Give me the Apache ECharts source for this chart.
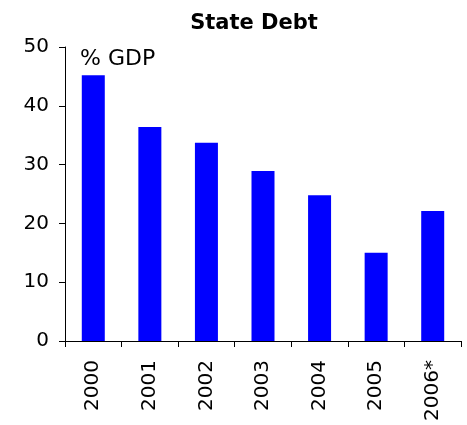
<!DOCTYPE html>
<html><head><meta charset="utf-8">
<script src="https://cdn.jsdelivr.net/npm/echarts@6/dist/echarts.min.js"></script>
<style>html,body{margin:0;padding:0;background:#fff}#c{width:467px;height:425px}</style>
</head><body><div id="c"></div>
<script>
const categories = ['2000','2001','2002','2003','2004','2005','2006*'];
const debtValues = [45.2, 36.4, 33.7, 28.9, 24.8, 15.0, 22.1];
const yTicks = [0, 10, 20, 30, 40, 50];

const chart = echarts.init(document.getElementById('c'));
chart.setOption({
  animation: false,
  backgroundColor: '#fff',
  title: { text: 'State Debt', left: 249, textAlign: 'center', top: 8,
    textStyle: { fontFamily: 'DejaVu Sans', fontSize: 21, fontWeight: 'bold', color: '#000' } },
  grid: { left: 65, right: 6, top: 47, bottom: 84 },
  xAxis: { type: 'category', data: categories,
    axisLine: { lineStyle: { color: '#000', width: 1 } },
    axisTick: { show: true, length: 6, lineStyle: { color: '#000' }, alignWithLabel: false },
    axisLabel: { rotate: 90, fontFamily: 'DejaVu Sans', fontSize: 20, color: '#000', margin: 19, interval: 0 } },
  yAxis: { type: 'value', min: yTicks[0], max: yTicks[yTicks.length-1], interval: 10,
    axisLine: { show: true, lineStyle: { color: '#000', width: 1 } },
    axisTick: { show: true, length: 6, lineStyle: { color: '#000' } },
    splitLine: { show: false },
    axisLabel: { fontFamily: 'DejaVu Sans', fontSize: 20, color: '#000', margin: 16 } },
  graphic: [{ type: 'text', left: 80, top: 48,
    style: { text: '% GDP', fontFamily: 'DejaVu Sans', fontSize: 22, fill: '#000' } }],
  series: [{ type: 'bar', data: debtValues, barWidth: 23,
    itemStyle: { color: '#0000FF' } }]
});
</script></body></html>
